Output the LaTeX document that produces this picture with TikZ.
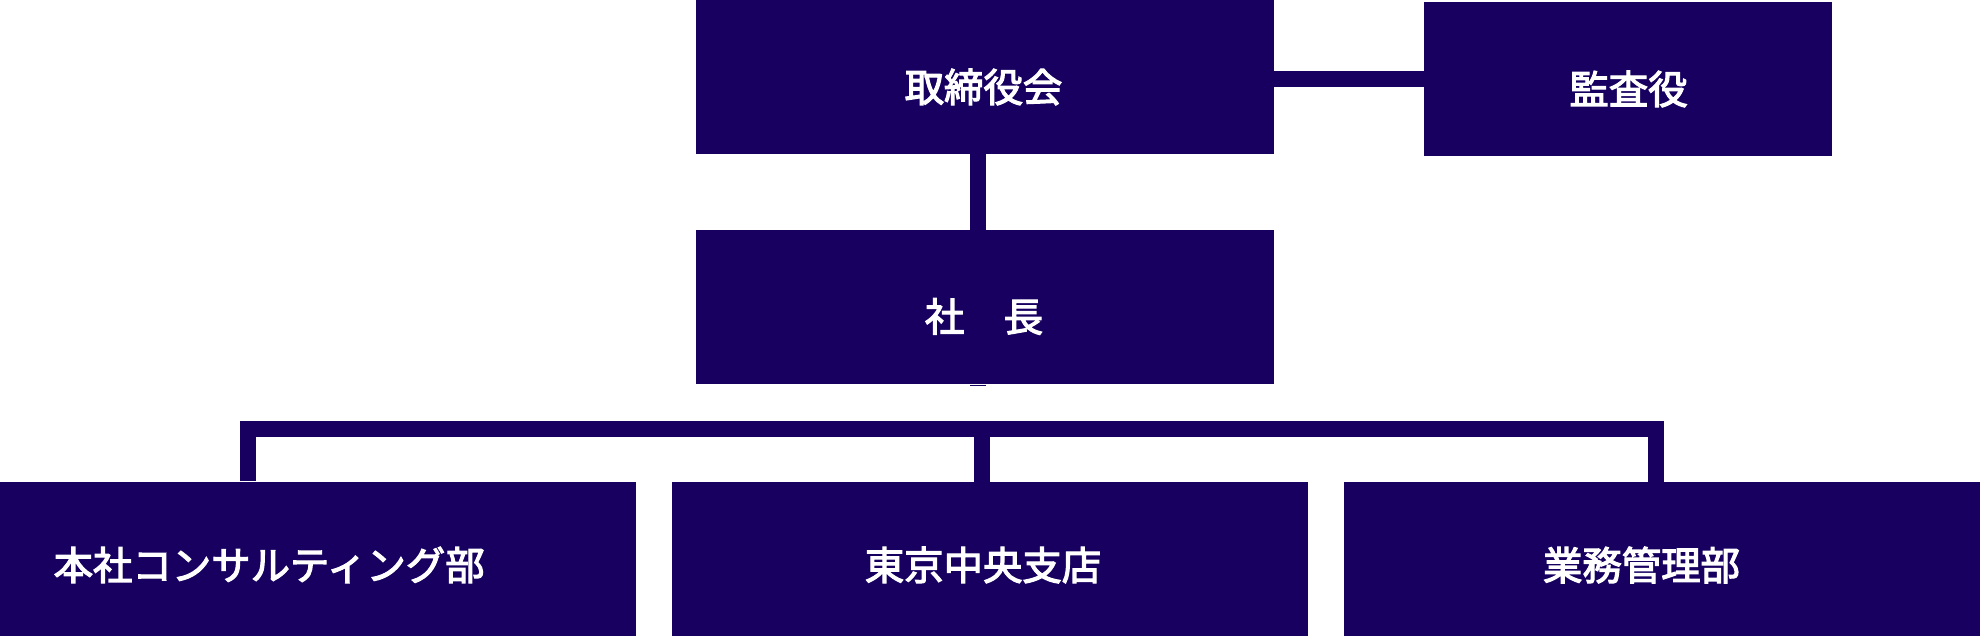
\documentclass[tikz,border=0pt]{standalone}
\usepackage{fontspec}
\usepackage{xcolor}
\newfontfamily\jpfont{Noto Sans CJK JP}[BoldFont={Noto Sans CJK JP},BoldFeatures={FakeBold=3}]
\definecolor{orgnavy}{HTML}{170060}
\tikzset{
  unitbox/.style={rectangle,fill=orgnavy,draw=none,inner sep=0pt,minimum height=1.54cm},
  unitlbl/.style={text=white,inner sep=0pt,font=\jpfont\bfseries\fontsize{11.2pt}{13pt}\selectfont},
  link/.style={draw=orgnavy,line width=0.16cm,line join=miter,shorten <=-1pt,shorten >=-1pt}
}

\begin{document}
\begin{tikzpicture}[x=0.01cm,y=-0.01cm]
\useasboundingbox (0,0) rectangle (1980,636);
\node[unitbox,minimum width=5.78cm] (board) at (985,77) {};
\node[unitbox,minimum width=4.08cm] (auditor) at (1628,79) {};
\node[unitbox,minimum width=5.78cm] (president) at (985,307) {};
\node[unitbox,minimum width=6.36cm] (honsha) at (318,559) {};
\node[unitbox,minimum width=6.36cm] (tokyo) at (990,559) {};
\node[unitbox,minimum width=6.36cm] (gyomu) at (1662,559) {};
\node[unitlbl] (boardlbl) at (983.5,87) {取締役会};
\node[unitlbl] (auditorlbl) at (1628.5,89) {監査役};
\node[unitlbl] (presidentlbl) at (984,316.5) {社　長};
\node[unitlbl,anchor=west] (honshalbl) at (53,565) {本社コンサルティング部};
\node[unitlbl] (tokyolbl) at (983,565) {東京中央支店};
\node[unitlbl] (gyomulbl) at (1641.5,565) {業務管理部};
\coordinate (busL) at (248,428.5);
\coordinate (busM) at (982,428.5);
\coordinate (busR) at (1656,428.5);
\draw[link] (auditor.west) -- (auditor.west -| board.east);
\draw[link] ([xshift=-2]board.south) -- ([xshift=-2]president.north);
\draw[link,shorten <=0pt,shorten >=0pt] ([xshift=-2]president.south) -- ++(0,1.5);
\draw[link,shorten <=0pt] (honsha.north -| busL) -- (busL) -- (busR) -- (gyomu.north -| busR);
\draw[link,shorten <=0pt] (busM) -- (tokyo.north -| busM);
\end{tikzpicture}
\end{document}
